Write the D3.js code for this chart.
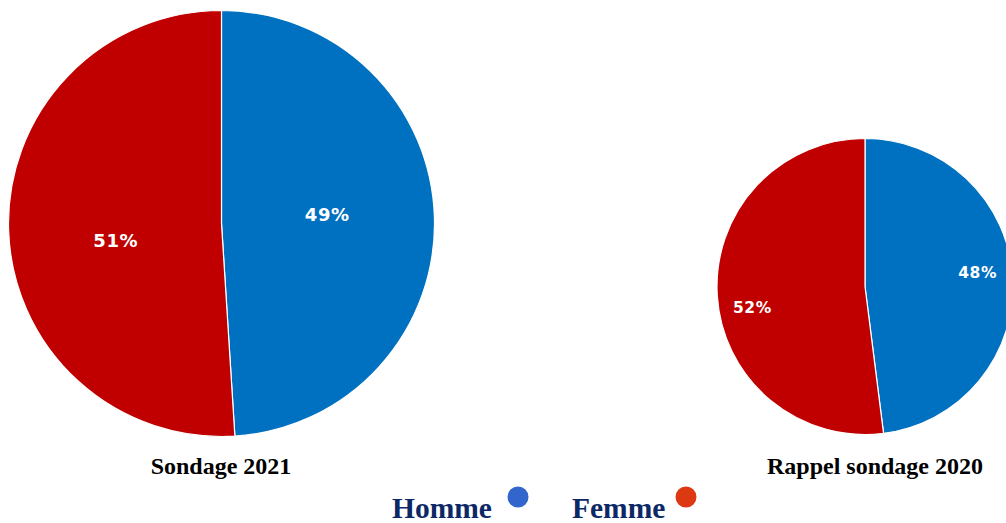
<!DOCTYPE html>
<html>
<head>
<meta charset="utf-8">
<script src="https://cdn.jsdelivr.net/npm/d3@7"></script>
<style>
  html, body { margin: 0; padding: 0; background: #fff; }
  svg { display: block; }
</style>
</head>
<body>
<svg id="chart" width="1006" height="523"></svg>
<script>
// Gender split per survey (percent)
const categories = ["Homme", "Femme"];
const surveys = ["Sondage 2021", "Rappel sondage 2020"];
const values2021 = [49, 51];
const values2020 = [48, 52];
const sliceColors = ["#0070c0", "#c00000"];
const legendColors = ["#3366cc", "#dc3912"];

const svg = d3.select("#chart");

const pies = [
  { title: surveys[0], values: values2021, cx: 221.5, cy: 223.5, r: 213, labelK: 0.5, fontSize: 18, tx: 221 },
  { title: surveys[1], values: values2020, cx: 865, cy: 286.5, r: 148, labelK: 0.77, fontSize: 15.5, tx: 875 }
];

const pie = d3.pie().sort(null).value(d => d);
const color = d3.scaleOrdinal().domain(categories).range(sliceColors);

pies.forEach(p => {
  const g = svg.append("g").attr("transform", `translate(${p.cx},${p.cy})`);
  const arc = d3.arc().innerRadius(0).outerRadius(p.r);
  const arcs = pie(p.values);

  g.selectAll("path.slice")
    .data(arcs)
    .join("path")
    .attr("class", "slice")
    .attr("d", arc)
    .attr("fill", (d, i) => color(categories[i]))
    .attr("stroke", "#fff")
    .attr("stroke-width", 1.2);

  // percentage labels, nudged slightly counter-clockwise from the slice middle
  const shift = -5 * Math.PI / 180;
  const mid = d => (d.startAngle + d.endAngle) / 2 + shift;
  g.selectAll("text.pct")
    .data(arcs)
    .join("text")
    .attr("class", "pct")
    .attr("x", d => Math.sin(mid(d)) * p.r * p.labelK)
    .attr("y", d => -Math.cos(mid(d)) * p.r * p.labelK + 4)
    .attr("text-anchor", "middle")
    .attr("dominant-baseline", "central")
    .attr("font-family", "'DejaVu Sans', Verdana, sans-serif")
    .attr("font-weight", "bold")
    .attr("font-size", p.fontSize)
    .attr("letter-spacing", 0.6)
    .attr("fill", "#fff")
    .text(d => d.data + "%");

  // survey title under the pie
  svg.append("text")
    .attr("x", p.tx).attr("y", 474)
    .attr("text-anchor", "middle")
    .attr("font-family", "'Liberation Serif', 'Times New Roman', serif")
    .attr("font-weight", "bold")
    .attr("font-size", 24)
    .attr("fill", "#000")
    .text(p.title);
});

// Legend
const legend = [
  { name: categories[0], tx: 392, dx: 518 },
  { name: categories[1], tx: 572, dx: 686 }
];
legend.forEach((l, i) => {
  svg.append("text")
    .attr("x", l.tx).attr("y", 518)
    .attr("font-family", "'Liberation Serif', 'Times New Roman', serif")
    .attr("font-weight", "bold")
    .attr("font-size", 29.5)
    .attr("fill", "#0c2866")
    .text(l.name);
  svg.append("circle")
    .attr("cx", l.dx).attr("cy", 497)
    .attr("r", 10.5)
    .attr("fill", legendColors[i]);
});
</script>
</body>
</html>
